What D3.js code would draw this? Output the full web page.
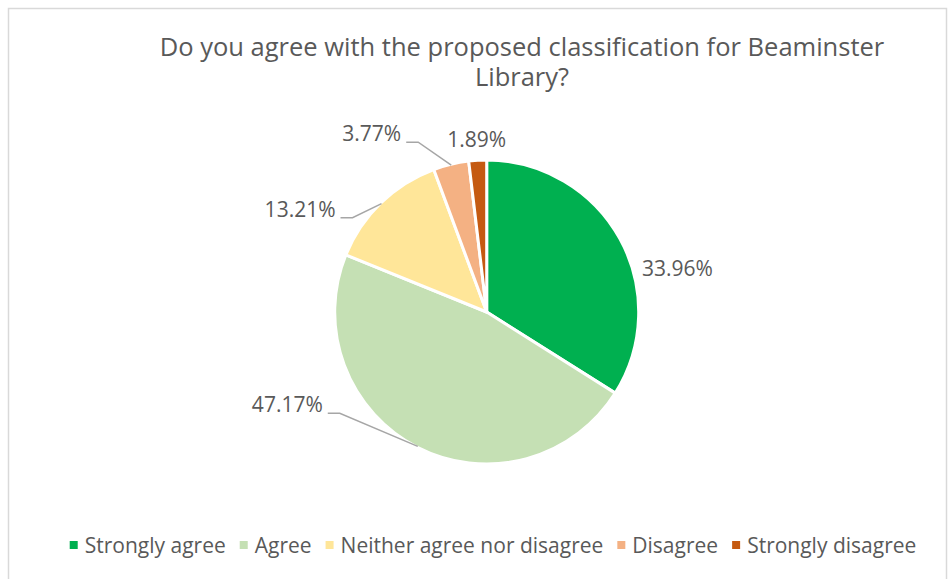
<!DOCTYPE html>
<html>
<head>
<meta charset="utf-8">
<script src="https://cdn.jsdelivr.net/npm/d3@7"></script>
<style>
  html, body { margin: 0; padding: 0; background: #fff; }
  svg { display: block; }
  text { font-family: "Open Sans", "Noto Sans", sans-serif; fill: #595959; }
</style>
</head>
<body>
<svg id="chart" width="952" height="579"></svg>
<script>
// ---- data ----
const titleLines = ["Do you agree with the proposed classification for Beaminster", "Library?"];
const categories = ["Strongly agree", "Agree", "Neither agree nor disagree", "Disagree", "Strongly disagree"];
const values = [33.96, 47.17, 13.21, 3.77, 1.89];
const labels = ["33.96%", "47.17%", "13.21%", "3.77%", "1.89%"];
const colors = ["#00B050", "#C5E0B4", "#FFE699", "#F4B183", "#C55A11"];

// ---- layout (label placement relative to slice edge point) ----
const labelOffset = [[23, 37], [-78, -33], [-29, 14], [-33, -23], [-1, -14]];
const hasLeader = [false, true, true, true, false];

const W = 952, H = 579;
const cx = 486.7, cy = 312, R = 152;

const svg = d3.select("#chart");

// border
svg.append("rect")
  .attr("x", 8.5).attr("y", 8.5)
  .attr("width", 938).attr("height", 600)
  .attr("fill", "none").attr("stroke", "#d9d9d9").attr("stroke-width", 1.5);

// title
const title = svg.append("text")
  .attr("text-anchor", "middle")
  .style("font-size", "25.5px");
titleLines.forEach((t, i) => {
  title.append("tspan").attr("x", 522).attr("y", 56 + i * 30).text(t);
});

// pie
const pie = d3.pie().sort(null).value(d => d)
  .startAngle(0).endAngle(2 * Math.PI);
const arcs = pie(values);
const arc = d3.arc().innerRadius(0).outerRadius(R);

const g = svg.append("g").attr("transform", `translate(${cx},${cy})`);
g.selectAll("path.slice").data(arcs).enter().append("path")
  .attr("class", "slice")
  .attr("d", arc)
  .attr("fill", (d, i) => colors[i])
  .attr("stroke", "#fff").attr("stroke-width", 3).attr("stroke-linejoin", "round");

// labels
arcs.forEach((d, i) => {
  const a = (d.startAngle + d.endAngle) / 2;
  const ex = Math.sin(a) * (R - 1), ey = -Math.cos(a) * (R - 1);
  const [ox, oy] = labelOffset[i];
  if (hasLeader[i]) {
    const bx = ex + ox, by = ey + oy;
    const hx = bx - 12;
    g.append("polyline")
      .attr("points", `${ex},${ey} ${bx},${by} ${hx},${by}`)
      .attr("fill", "none").attr("stroke", "#a6a6a6").attr("stroke-width", 1.5);
    g.append("text")
      .attr("x", hx - 5).attr("y", by - 1)
      .attr("text-anchor", "end")
      .style("font-size", "21px")
      .text(labels[i]);
  } else {
    g.append("text")
      .attr("x", ex + ox).attr("y", ey + oy)
      .attr("text-anchor", i === 0 ? "start" : "middle")
      .style("font-size", "21px")
      .text(labels[i]);
  }
});

// legend
const legend = svg.append("g");
const items = legend.selectAll("g").data(categories).enter().append("g");
items.append("rect").attr("width", 8).attr("height", 8).attr("y", -12)
  .attr("fill", (d, i) => colors[i]);
items.append("text").attr("x", 15).attr("y", 0)
  .style("font-size", "21px").text(d => d);
const widths = [];
items.each(function() {
  const tw = d3.select(this).select("text").node().getComputedTextLength();
  widths.push(15 + tw);
});
const gap = 14;
const total = d3.sum(widths) + gap * (widths.length - 1);
let startX = 493 - total / 2;
items.attr("transform", (d, i) => {
  const t = `translate(${startX},553)`;
  startX += widths[i] + gap;
  return t;
});
</script>
</body>
</html>
